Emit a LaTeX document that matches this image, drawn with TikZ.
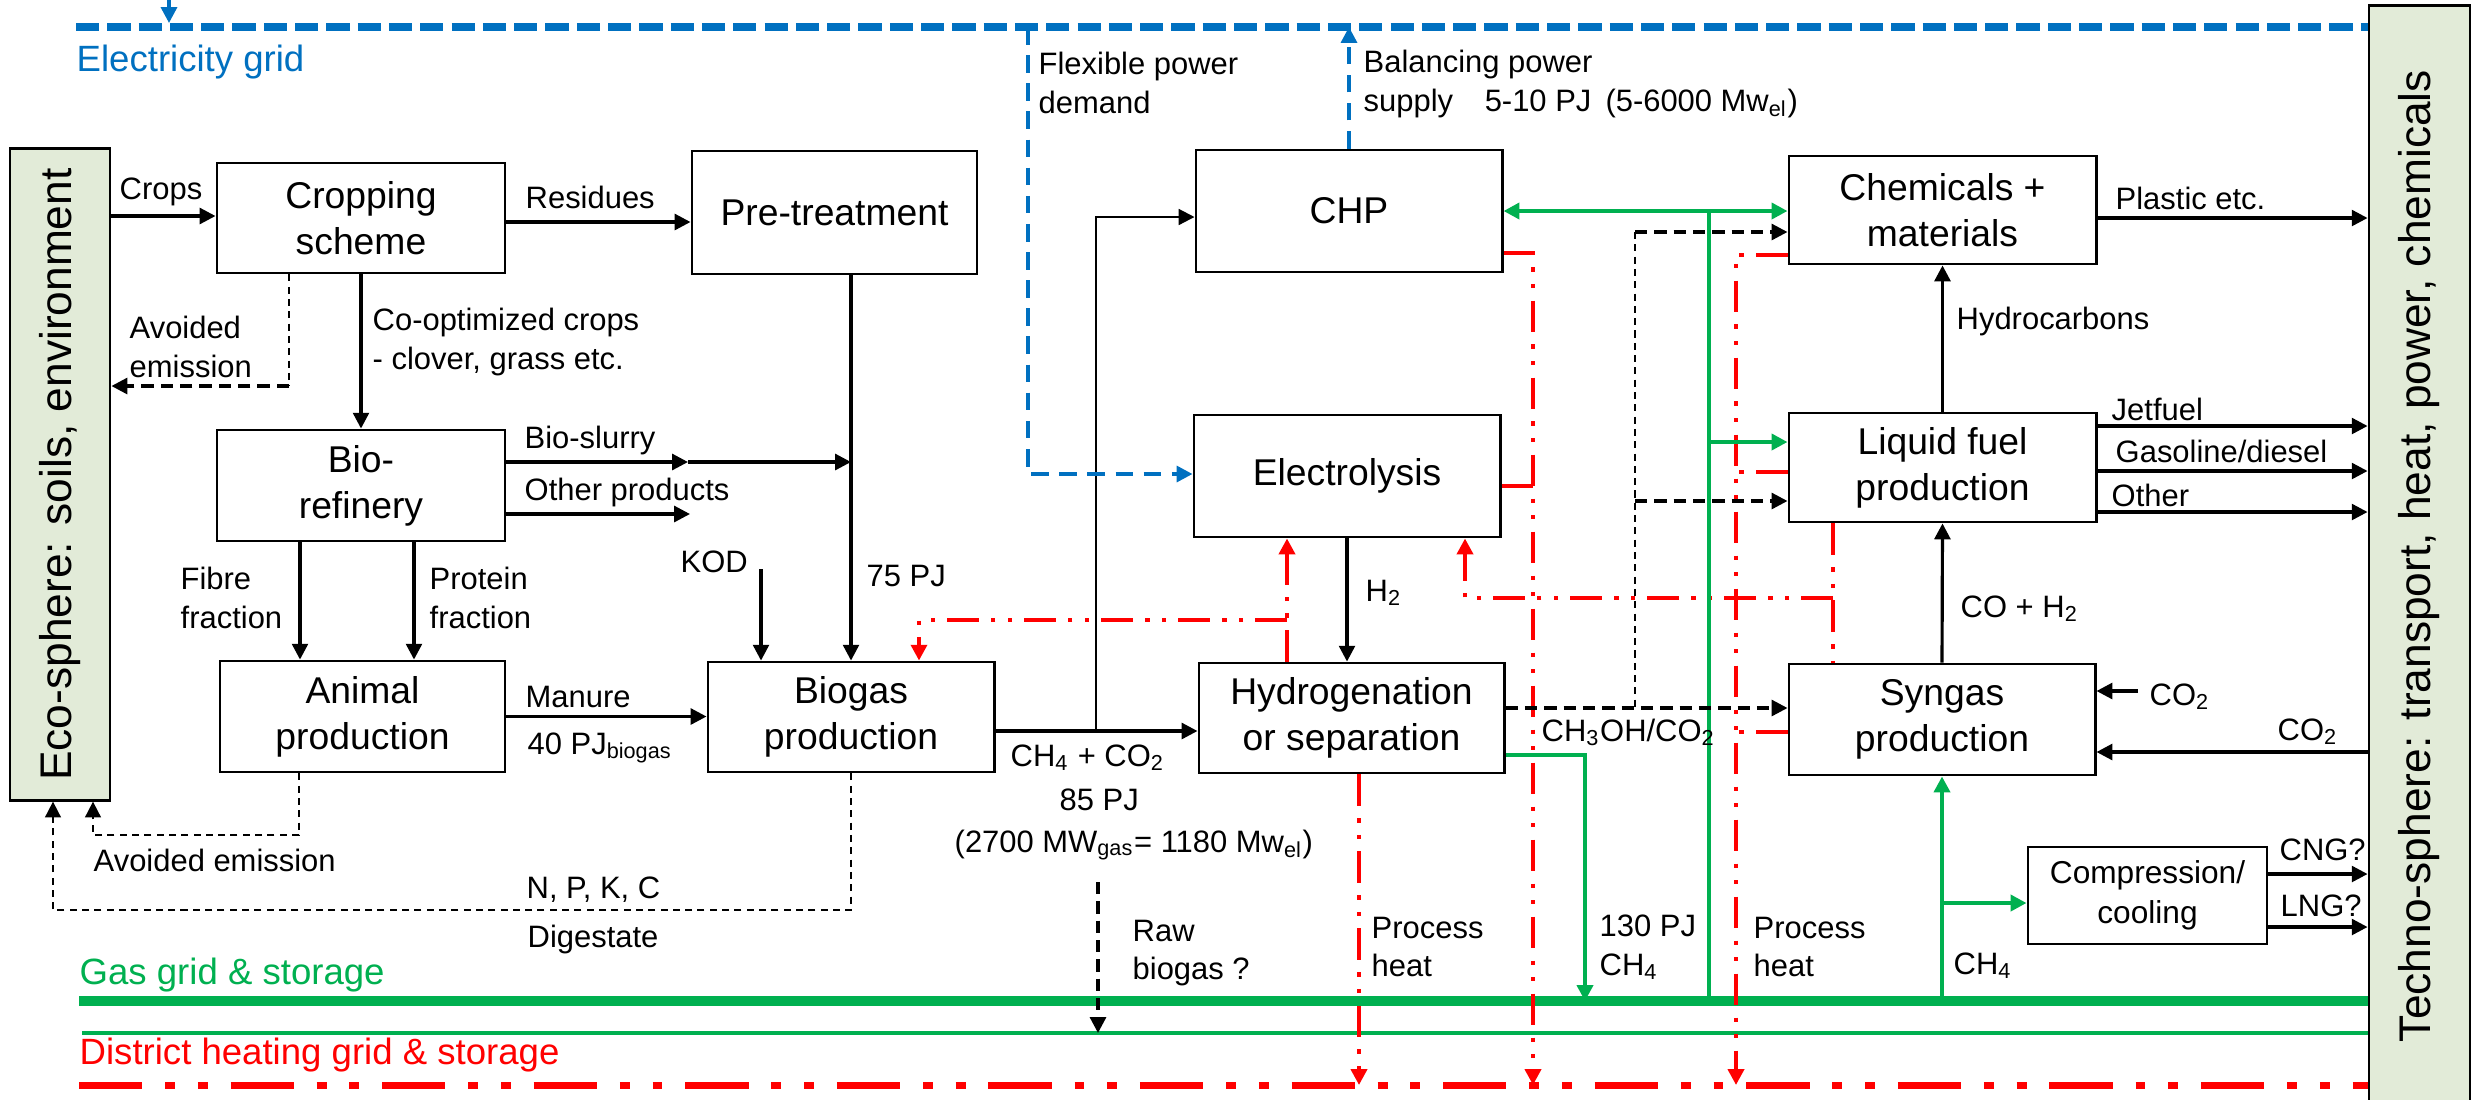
\documentclass[tikz,border=0pt]{standalone}
\usepackage{fontspec}
\setmainfont{Liberation Sans}
\usetikzlibrary{arrows.meta}

\definecolor{elblue}{RGB}{0,112,192}
\definecolor{gasgreen}{RGB}{0,176,80}
\definecolor{heatred}{RGB}{255,0,0}
\definecolor{ecofill}{RGB}{226,235,216}
\newcommand{\lblfont}{\fontsize{8.8}{11}\selectfont}
\newcommand{\boxfont}{\fontsize{10.6}{13}\selectfont}
\newcommand{\cmpfont}{\fontsize{9}{11.5}\selectfont}
\newcommand{\sidefont}{\fontsize{12.6}{15}\selectfont}
\newcommand{\gridfont}{\fontsize{10.4}{12}\selectfont}

\begin{document}
\begin{tikzpicture}[x=0.01cm, y=-0.01cm,
    >={Triangle[length=4.5pt,width=4.5pt]},
    proc/.style={draw, line width=0.8pt, fill=white, inner sep=0pt, align=center, font=\boxfont},
    wh/.style 2 args={minimum width=#1, minimum height=#2},
    spherebox/.style={draw, line width=0.8pt, fill=ecofill, inner sep=0pt, font=\sidefont},
    lbl/.style={anchor=west, inner sep=0pt, align=left, font=\lblfont},
    flow/.style={line width=0.9pt},
    thinflow/.style={line width=0.6pt},
    emis/.style={line width=0.5pt, dash pattern=on 2pt off 1.5pt},
    dflow/.style={line width=0.9pt, dash pattern=on 3.5pt off 2pt},
    elpower/.style={elblue, line width=1pt, dash pattern=on 5pt off 3pt},
    gasline/.style={gasgreen, line width=1.2pt},
    heatline/.style={heatred, line width=1.2pt, dash pattern=on 9pt off 3.5pt on 1.2pt off 3.5pt on 1.2pt off 3.5pt},
]
    \useasboundingbox (0,0) rectangle (2478,1099);

    % grids
    \coordinate (elstart) at (76,27);
    \coordinate (gasstart) at (79,1001);
    \coordinate (gastwo) at (82,1033);
    \coordinate (dhstart) at (79,1085);
    \coordinate (elin) at (169,-10);
    \node[spherebox, wh={1.01cm}{11cm}] (tec) at (2419.5,556) {\rotatebox{90}{Techno-sphere: transport, heat, power, chemicals}};
    \draw[elblue, line width=2pt, dash pattern=on 6.6pt off 2.3pt] (elstart) -- (tec.west |- elstart);
    \draw[gasgreen, line width=2.6pt] (gasstart) -- (tec.west |- gasstart);
    \draw[gasgreen, line width=1.2pt] (gastwo) -- (tec.west |- gastwo);
    \draw[heatred, line width=2pt, dash pattern=on 18pt off 6.5pt on 2.8pt off 6.5pt on 2.8pt off 6.5pt] (dhstart) -- (tec.west |- dhstart);
    \draw[elpower, ->] (elin) -- (elin |- 0,23);
    \node[lbl, font=\gridfont, text=elblue] (elgrid) at (76,62) {Electricity grid};
    \node[lbl, font=\gridfont, text=gasgreen] (gasgrid) at (79,975) {Gas grid \& storage};
    \node[lbl, font=\gridfont, text=heatred] (dhgrid) at (79,1055) {District heating grid \& storage};

    % boxes
    \node[spherebox, wh={1cm}{6.51cm}] (eco) at (60,474.5) {\rotatebox{90}{Eco-sphere: soils, environment}};
    \node[proc, wh={2.88cm}{1.1cm}] (crop) at (361,218) {Cropping\\scheme};
    \node[proc, wh={2.85cm}{1.23cm}] (pret) at (834.5,212.5) {Pre-treatment};
    \node[proc, wh={2.88cm}{1.11cm}] (bioref) at (361,485.5) {Bio-\\refinery};
    \node[proc, wh={2.85cm}{1.11cm}] (animal) at (362.5,716.5) {Animal\\production};
    \node[proc, wh={2.86cm}{1.1cm}] (biogas) at (851,717) {Biogas\\production};
    \node[proc, wh={3.06cm}{1.22cm}] (chp) at (1349,211) {CHP};
    \node[proc, wh={3.06cm}{1.22cm}] (elys) at (1347,476) {Electrolysis};
    \node[proc, wh={3.05cm}{1.1cm}] (hydro) at (1351.5,718) {Hydrogenation\\or separation};
    \node[proc, wh={3.07cm}{1.08cm}] (chem) at (1942.5,210) {Chemicals +\\materials};
    \node[proc, wh={3.07cm}{1.09cm}] (liquid) at (1942.5,467.5) {Liquid fuel\\production};
    \node[proc, wh={3.06cm}{1.11cm}] (syngas) at (1942,719.5) {Syngas\\production};
    \node[proc, font=\cmpfont, wh={2.39cm}{0.97cm}] (compr) at (2147.5,895.5) {Compression/\\cooling};

    % left side flows
    \draw[flow, ->] (eco.east |- 0,216) -- (crop.west |- 0,216);
    \draw[flow, ->] (crop.east |- 0,222) -- (pret.west |- 0,222);
    \draw[flow, ->] (crop.south) -- (bioref.north);
    \draw[emis] (crop.south -| 289,0) -- (289,386);
    \draw[dflow, ->] (289,386) -- (eco.east |- 0,386);
    \coordinate (slurry) at (688,462);
    \coordinate (othend) at (690,514);
    \draw[flow, ->] (bioref.east |- slurry) -- (slurry);
    \draw[flow, ->] (slurry) -- (biogas.north |- slurry);
    \draw[flow, ->] (bioref.east |- othend) -- (othend);
    \draw[flow, ->] (bioref.south -| 300,0) -- (animal.north -| 300,0);
    \draw[flow, ->] (bioref.south -| 414,0) -- (animal.north -| 414,0);
    \draw[flow, ->] (animal.east) -- (animal.east -| biogas.west);
    \coordinate (kod) at (761,569);
    \draw[flow, ->] (kod) -- (kod |- biogas.north);
    \draw[flow, ->] (biogas.north |- pret.south) -- (biogas.north);
    \draw[emis, ->] (animal.south -| 299,0) |- (93,835) -- (eco.south -| 93,0);
    \draw[emis, ->] (biogas.south) |- (53,910) -- (eco.south -| 53,0);

    % biogas to upgrading
    \coordinate (split) at (1096,731);
    \draw[flow, ->] (biogas.east |- split) -- (hydro.west |- split);
    \draw[thinflow, ->] (split) |- (chp.west |- 0,217);
    \coordinate (rawtop) at (1098,882);
    \draw[dflow, ->] (rawtop) -- (rawtop |- gastwo);
    \draw[flow, ->] (elys.south) -- (elys.south |- hydro.north);

    % power
    \draw[elpower, ->] (elstart -| 1028,0) |- (elys.west |- 0,474);
    \draw[elpower, ->] (chp.north) -- (chp.north |- elstart);

    % heat
    \draw[heatline, ->] (chp.east |- 0,253) -| (dhstart -| 1533,0);
    \draw[heatline] (elys.east |- 0,486) -- (1533,486);
    \draw[heatline, ->] (hydro.north -| 1287,0) -- (elys.south -| 1287,0);
    \draw[heatline, ->] (1287,620) -| (biogas.north -| 919,0);
    \draw[heatline, ->] (hydro.south -| 1359,0) -- (dhstart -| 1359,0);
    \draw[heatline] (liquid.south -| 1833,0) -- (syngas.north -| 1833,0);
    \draw[heatline, ->] (1833,598) -| (elys.south -| 1465,0);
    \draw[heatline, ->] (chem.west |- 0,255) -| (dhstart -| 1736,0);
    \draw[heatline] (liquid.west |- 0,472) -- (1736,472);
    \draw[heatline] (syngas.west |- 0,732) -- (1736,732);

    % gas
    \draw[gasline, <->] (chp.east) -- (chem.west |- chp.east);
    \draw[gasline] (1709,211) -- (gasstart -| 1709,0);
    \draw[gasline, ->] (1709,442) -- (liquid.west |- 0,442);
    \draw[gasline, ->] (hydro.east |- 0,755) -| (gasstart -| 1585,0);
    \draw[gasline, ->] (gasstart -| syngas.south) -- (syngas.south);
    \draw[gasline, ->] (1942,903) -- (compr.west |- 0,903);

    % methanol / CO2 side streams
    \draw[emis] (1635,232) -- (1635,708);
    \draw[dflow, ->] (1635,232) -- (chem.west |- 0,232);
    \draw[dflow, ->] (1635,501) -- (liquid.west |- 0,501);
    \draw[dflow, ->] (hydro.east |- 0,708) -- (syngas.west |- 0,708);

    % products
    \draw[flow, ->] (liquid.north) -- (chem.south);
    \draw[flow, ->] (syngas.north) -- (liquid.south);
    \draw[flow, ->] (chem.east |- 0,218) -- (tec.west |- 0,218);
    \draw[flow, ->] (liquid.east |- 0,426) -- (tec.west |- 0,426);
    \draw[flow, ->] (liquid.east |- 0,471) -- (tec.west |- 0,471);
    \draw[flow, ->] (liquid.east |- 0,512) -- (tec.west |- 0,512);
    \coordinate (co2in) at (2138,691);
    \draw[flow, ->] (co2in) -- (syngas.east |- co2in);
    \draw[flow, ->] (tec.west |- 0,752) -- (syngas.east |- 0,752);
    \draw[flow, ->] (compr.east |- 0,874) -- (tec.west |- 0,874);
    \draw[flow, ->] (compr.east |- 0,927) -- (tec.west |- 0,927);

    % labels
    \node[lbl] (lcrops) at (119,192) {Crops};
    \node[lbl] (lres) at (525,197) {Residues};
    \node[lbl] (lavo) at (129,347) {Avoided\\emission};
    \node[lbl] (lcoopt) at (372,342) {Co-optimized crops\\- clover, grass etc.};
    \node[lbl] (lslurry) at (524,440) {Bio-slurry};
    \node[lbl] (lother) at (524,492) {Other products};
    \node[lbl] (lfibre) at (180,598) {Fibre\\fraction};
    \node[lbl] (lprot) at (429,598) {Protein\\fraction};
    \node[lbl] (lkod) at (680,562) {KOD};
    \node[lbl] (l75) at (866,576) {75 PJ};
    \node[lbl] (lman) at (525,697) {Manure};
    \node[lbl] (l40) at (527,748) {40 PJ\textsubscript{biogas}};
    \node[lbl] (lavo2) at (93,860) {Avoided emission};
    \node[lbl] (lnpk) at (526,890) {N, P, K, C};
    \node[lbl] (ldig) at (527,939) {Digestate};
    \node[lbl] (lch4co2) at (1010,758) {CH\textsubscript{4} + CO\textsubscript{2}};
    \node[lbl] (l85) at (1059,800) {85 PJ};
    \node[lbl] (lmw) at (954,845) {(2700 MW\textsubscript{gas}= 1180 Mw\textsubscript{el})};
    \node[lbl] (lraw) at (1132,953) {Raw\\biogas ?};
    \node[lbl] (lflex) at (1038,83) {Flexible power\\demand};
    \node[lbl] (lbal) at (1363,84) {Balancing power\\supply\hspace{9pt}5-10 PJ\hspace{4pt}(5-6000 Mw\textsubscript{el})};
    \node[lbl] (lh2) at (1365,593) {H\textsubscript{2}};
    \node[lbl] (lmeoh) at (1541,732) {CH\textsubscript{3}OH/CO\textsubscript{2}};
    \node[lbl] (lph1) at (1371,947) {Process\\heat};
    \node[lbl] (l130) at (1599,947) {130 PJ\\CH\textsubscript{4}};
    \node[lbl] (lph2) at (1753,947) {Process\\heat};
    \node[lbl] (lch4) at (1953,966) {CH\textsubscript{4}};
    \node[lbl] (lhc) at (1956,321) {Hydrocarbons};
    \node[lbl] (lplast) at (2115,198) {Plastic etc.};
    \node[lbl] (ljet) at (2111,409) {Jetfuel};
    \node[lbl] (lgaso) at (2115,451) {Gasoline/diesel};
    \node[lbl] (loth) at (2111,495) {Other};
    \node[lbl] (lcoh2) at (1960,609) {CO + H\textsubscript{2}};
    \node[lbl] (lco2a) at (2149,697) {CO\textsubscript{2}};
    \node[lbl] (lco2b) at (2277,732) {CO\textsubscript{2}};
    \node[lbl] (lcng) at (2279,850) {CNG?};
    \node[lbl] (llng) at (2280,906) {LNG?};
\end{tikzpicture}
\end{document}
